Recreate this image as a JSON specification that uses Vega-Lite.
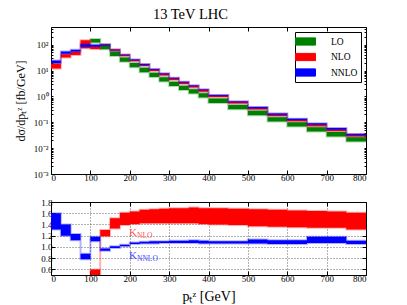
{
  "$schema": "https://vega.github.io/schema/vega-lite/v6.json",
  "background": "white",
  "padding": {"left": 13, "top": 6, "right": 30, "bottom": 4},
  "title": {"text": "13 TeV LHC", "font": "Liberation Serif", "fontSize": 14.5, "fontWeight": "normal", "offset": 4, "color": "black", "anchor": "middle"},
  "config": {
    "font": "Liberation Serif",
    "view": {"stroke": "black", "strokeWidth": 1},
    "axis": {"labelFont": "Liberation Serif", "labelFontSize": 9, "labelColor": "black", "tickColor": "black", "tickSize": -4, "labelPadding": 3, "domain": false, "titleFont": "Liberation Serif", "titleFontWeight": "normal", "titleColor": "black", "grid": false}
  },
  "resolve": {"scale": {"fill": "independent", "stroke": "independent", "color": "independent"}, "legend": {"fill": "independent", "stroke": "independent", "color": "independent"}},
  "spacing": 14,
  "datasets": {
    "top": [
      {"s": "LO", "x": 100, "lo": 122, "hi": 164},
      {"s": "LO", "x": 125, "lo": 66, "hi": 98},
      {"s": "LO", "x": 150, "lo": 36.5, "hi": 53.7},
      {"s": "LO", "x": 175, "lo": 21.6, "hi": 31.7},
      {"s": "LO", "x": 200, "lo": 13.4, "hi": 19.6},
      {"s": "LO", "x": 225, "lo": 8.63, "hi": 12.7},
      {"s": "LO", "x": 250, "lo": 5.6, "hi": 8.24},
      {"s": "LO", "x": 275, "lo": 3.76, "hi": 5.53},
      {"s": "LO", "x": 300, "lo": 2.52, "hi": 3.71},
      {"s": "LO", "x": 325, "lo": 1.77, "hi": 2.6},
      {"s": "LO", "x": 350, "lo": 1.28, "hi": 1.88},
      {"s": "LO", "x": 375, "lo": 0.896, "hi": 1.32},
      {"s": "LO", "x": 400, "lo": 0.559, "hi": 0.822},
      {"s": "LO", "x": 450, "lo": 0.315, "hi": 0.462},
      {"s": "LO", "x": 500, "lo": 0.188, "hi": 0.276},
      {"s": "LO", "x": 550, "lo": 0.107, "hi": 0.157},
      {"s": "LO", "x": 600, "lo": 0.0678, "hi": 0.0997},
      {"s": "LO", "x": 650, "lo": 0.0436, "hi": 0.0641},
      {"s": "LO", "x": 700, "lo": 0.0284, "hi": 0.0417},
      {"s": "LO", "x": 750, "lo": 0.0179, "hi": 0.0264},
      {"s": "LO", "x": 800, "lo": 0.0179, "hi": 0.0264},
      {"s": "NLO", "x": 0, "lo": 12, "hi": 18.5},
      {"s": "NLO", "x": 25, "lo": 31.6, "hi": 42.4},
      {"s": "NLO", "x": 50, "lo": 40, "hi": 54},
      {"s": "NLO", "x": 75, "lo": 72, "hi": 146},
      {"s": "NLO", "x": 100, "lo": 68, "hi": 90},
      {"s": "NLO", "x": 125, "lo": 95, "hi": 104},
      {"s": "NLO", "x": 150, "lo": 58.5, "hi": 66.4},
      {"s": "NLO", "x": 175, "lo": 36.1, "hi": 41.9},
      {"s": "NLO", "x": 200, "lo": 22.7, "hi": 26.2},
      {"s": "NLO", "x": 225, "lo": 14.8, "hi": 17.3},
      {"s": "NLO", "x": 250, "lo": 9.59, "hi": 11.27},
      {"s": "NLO", "x": 275, "lo": 6.43, "hi": 7.61},
      {"s": "NLO", "x": 300, "lo": 4.32, "hi": 5.14},
      {"s": "NLO", "x": 325, "lo": 3.02, "hi": 3.6},
      {"s": "NLO", "x": 350, "lo": 2.19, "hi": 2.62},
      {"s": "NLO", "x": 375, "lo": 1.52, "hi": 1.83},
      {"s": "NLO", "x": 400, "lo": 0.944, "hi": 1.139},
      {"s": "NLO", "x": 450, "lo": 0.527, "hi": 0.637},
      {"s": "NLO", "x": 500, "lo": 0.31, "hi": 0.377},
      {"s": "NLO", "x": 550, "lo": 0.175, "hi": 0.214},
      {"s": "NLO", "x": 600, "lo": 0.11, "hi": 0.135},
      {"s": "NLO", "x": 650, "lo": 0.0704, "hi": 0.0861},
      {"s": "NLO", "x": 700, "lo": 0.0458, "hi": 0.0557},
      {"s": "NLO", "x": 750, "lo": 0.0283, "hi": 0.0348},
      {"s": "NLO", "x": 800, "lo": 0.0283, "hi": 0.0348},
      {"s": "NNLO", "x": 0, "lo": 19.5, "hi": 24.5},
      {"s": "NNLO", "x": 25, "lo": 44, "hi": 54},
      {"s": "NNLO", "x": 50, "lo": 54, "hi": 64},
      {"s": "NNLO", "x": 75, "lo": 82, "hi": 103},
      {"s": "NNLO", "x": 100, "lo": 84, "hi": 100},
      {"s": "NNLO", "x": 125, "lo": 93, "hi": 101},
      {"s": "NNLO", "x": 150, "lo": 60, "hi": 64},
      {"s": "NNLO", "x": 175, "lo": 38.6, "hi": 40.6},
      {"s": "NNLO", "x": 200, "lo": 24.9, "hi": 26.7},
      {"s": "NNLO", "x": 225, "lo": 16.3, "hi": 17.66},
      {"s": "NNLO", "x": 250, "lo": 10.6, "hi": 11.47},
      {"s": "NNLO", "x": 275, "lo": 7.2, "hi": 7.72},
      {"s": "NNLO", "x": 300, "lo": 4.86, "hi": 5.25},
      {"s": "NNLO", "x": 325, "lo": 3.4, "hi": 3.67},
      {"s": "NNLO", "x": 350, "lo": 2.46, "hi": 2.66},
      {"s": "NNLO", "x": 375, "lo": 1.72, "hi": 1.85},
      {"s": "NNLO", "x": 400, "lo": 1.06, "hi": 1.14},
      {"s": "NNLO", "x": 450, "lo": 0.593, "hi": 0.64},
      {"s": "NNLO", "x": 500, "lo": 0.35, "hi": 0.389},
      {"s": "NNLO", "x": 550, "lo": 0.197, "hi": 0.218},
      {"s": "NNLO", "x": 600, "lo": 0.123, "hi": 0.137},
      {"s": "NNLO", "x": 650, "lo": 0.0812, "hi": 0.0923},
      {"s": "NNLO", "x": 700, "lo": 0.0527, "hi": 0.0599},
      {"s": "NNLO", "x": 750, "lo": 0.0318, "hi": 0.035},
      {"s": "NNLO", "x": 800, "lo": 0.0318, "hi": 0.035}
    ],
    "ratio": [
      {"s": "KNLO", "x": 100, "lo": 0.45, "hi": 0.6},
      {"s": "KNLO", "x": 125, "lo": 1.19, "hi": 1.3},
      {"s": "KNLO", "x": 150, "lo": 1.33, "hi": 1.51},
      {"s": "KNLO", "x": 175, "lo": 1.39, "hi": 1.61},
      {"s": "KNLO", "x": 200, "lo": 1.41, "hi": 1.63},
      {"s": "KNLO", "x": 225, "lo": 1.42, "hi": 1.66},
      {"s": "KNLO", "x": 250, "lo": 1.42, "hi": 1.67},
      {"s": "KNLO", "x": 275, "lo": 1.42, "hi": 1.68},
      {"s": "KNLO", "x": 300, "lo": 1.42, "hi": 1.69},
      {"s": "KNLO", "x": 325, "lo": 1.42, "hi": 1.69},
      {"s": "KNLO", "x": 350, "lo": 1.42, "hi": 1.7},
      {"s": "KNLO", "x": 375, "lo": 1.41, "hi": 1.69},
      {"s": "KNLO", "x": 400, "lo": 1.4, "hi": 1.69},
      {"s": "KNLO", "x": 450, "lo": 1.39, "hi": 1.68},
      {"s": "KNLO", "x": 500, "lo": 1.37, "hi": 1.67},
      {"s": "KNLO", "x": 550, "lo": 1.36, "hi": 1.66},
      {"s": "KNLO", "x": 600, "lo": 1.35, "hi": 1.65},
      {"s": "KNLO", "x": 650, "lo": 1.34, "hi": 1.64},
      {"s": "KNLO", "x": 700, "lo": 1.34, "hi": 1.63},
      {"s": "KNLO", "x": 750, "lo": 1.31, "hi": 1.61},
      {"s": "KNLO", "x": 800, "lo": 1.31, "hi": 1.61},
      {"s": "KNNLO", "x": 0, "lo": 1.31, "hi": 1.6},
      {"s": "KNNLO", "x": 25, "lo": 1.2, "hi": 1.4},
      {"s": "KNNLO", "x": 50, "lo": 1.12, "hi": 1.23},
      {"s": "KNNLO", "x": 75, "lo": 0.78, "hi": 0.88},
      {"s": "KNNLO", "x": 100, "lo": 1.1, "hi": 1.18},
      {"s": "KNNLO", "x": 125, "lo": 0.93, "hi": 0.97},
      {"s": "KNNLO", "x": 150, "lo": 0.98, "hi": 1.01},
      {"s": "KNNLO", "x": 175, "lo": 1.01, "hi": 1.04},
      {"s": "KNNLO", "x": 200, "lo": 1.05, "hi": 1.08},
      {"s": "KNNLO", "x": 225, "lo": 1.06, "hi": 1.09},
      {"s": "KNNLO", "x": 250, "lo": 1.06, "hi": 1.1},
      {"s": "KNNLO", "x": 275, "lo": 1.07, "hi": 1.1},
      {"s": "KNNLO", "x": 300, "lo": 1.07, "hi": 1.11},
      {"s": "KNNLO", "x": 325, "lo": 1.07, "hi": 1.11},
      {"s": "KNNLO", "x": 350, "lo": 1.07, "hi": 1.12},
      {"s": "KNNLO", "x": 375, "lo": 1.06, "hi": 1.11},
      {"s": "KNNLO", "x": 400, "lo": 1.06, "hi": 1.1},
      {"s": "KNNLO", "x": 450, "lo": 1.06, "hi": 1.1},
      {"s": "KNNLO", "x": 500, "lo": 1.06, "hi": 1.13},
      {"s": "KNNLO", "x": 550, "lo": 1.05, "hi": 1.12},
      {"s": "KNNLO", "x": 600, "lo": 1.05, "hi": 1.12},
      {"s": "KNNLO", "x": 650, "lo": 1.07, "hi": 1.18},
      {"s": "KNNLO", "x": 700, "lo": 1.07, "hi": 1.18},
      {"s": "KNNLO", "x": 750, "lo": 1.05, "hi": 1.11},
      {"s": "KNNLO", "x": 800, "lo": 1.05, "hi": 1.11}
    ],
    "labels": [
      {"s": "KNLO", "x": 198, "y": 1.25, "main": "K", "sub": "NLO"},
      {"s": "KNNLO", "x": 198, "y": 0.83, "main": "K", "sub": "NNLO"}
    ]
  },
  "vconcat": [
    {
      "width": 315,
      "height": 147,
      "data": {"name": "top"},
      "resolve": {"axis": {"x": "independent", "y": "independent"}},
      "layer": [
        {
          "mark": {"type": "area", "interpolate": "step-after", "strokeWidth": 2, "strokeOpacity": 0.3, "fillOpacity": 1, "clip": true},
          "encoding": {
            "x": {"field": "x", "type": "quantitative", "scale": {"domain": [0, 800], "nice": false}, "axis": {"values": [0, 100, 200, 300, 400, 500, 600, 700, 800], "title": null}},
            "y": {"field": "hi", "type": "quantitative", "scale": {"type": "log", "domain": [0.001, 480], "nice": false},
              "axis": {"values": [0.001, 0.002, 0.003, 0.004, 0.005, 0.006, 0.007, 0.008, 0.009, 0.01, 0.02, 0.03, 0.04, 0.05, 0.06, 0.07, 0.08, 0.09, 0.1, 0.2, 0.3, 0.4, 0.5, 0.6, 0.7, 0.8, 0.9, 1, 2, 3, 4, 5, 6, 7, 8, 9, 10, 20, 30, 40, 50, 60, 70, 80, 90, 100, 200, 300, 400],
                "labelExpr": "datum.value == 100 ? '10²' : datum.value == 10 ? '10¹' : datum.value == 1 ? '10⁰' : datum.value == 0.1 ? '10⁻¹' : datum.value == 0.01 ? '10⁻²' : datum.value == 0.001 ? '10⁻³' : ''",
                "tickSize": -2, "labelPadding": 5, "labelFontSize": 9,
                "title": "dσ/dpₜᶻ  [fb/GeV]", "titleFontSize": 12, "titlePadding": 6}},
            "y2": {"field": "lo"},
            "fill": {"field": "s", "type": "nominal", "scale": {"domain": ["LO", "NLO", "NNLO"], "range": ["#008000", "#ff0000", "#0000ff"]},
              "legend": {"title": null, "orient": "top-right", "offset": 5, "fillColor": "white", "strokeColor": "black", "padding": 3, "symbolType": "M-1.667,-0.6H1.667V0.6H-1.667Z", "symbolSize": 144, "symbolStrokeColor": "#222", "symbolStrokeWidth": 1, "labelFont": "Liberation Serif", "labelFontSize": 9.5, "labelColor": "black", "rowPadding": 2.5, "labelOffset": 19, "symbolOffset": 1}},
            "stroke": {"field": "s", "type": "nominal", "scale": {"domain": ["LO", "NLO", "NNLO"], "range": ["#008000", "#ff0000", "#0000ff"]}, "legend": null}
          }
        },
        {
          "mark": {"type": "rule", "opacity": 0},
          "encoding": {
            "x": {"field": "x", "type": "quantitative", "axis": {"orient": "top", "values": [0, 100, 200, 300, 400, 500, 600, 700, 800], "labels": false, "title": null}},
            "y": {"field": "hi", "type": "quantitative",
              "axis": {"orient": "right", "values": [0.001, 0.002, 0.003, 0.004, 0.005, 0.006, 0.007, 0.008, 0.009, 0.01, 0.02, 0.03, 0.04, 0.05, 0.06, 0.07, 0.08, 0.09, 0.1, 0.2, 0.3, 0.4, 0.5, 0.6, 0.7, 0.8, 0.9, 1, 2, 3, 4, 5, 6, 7, 8, 9, 10, 20, 30, 40, 50, 60, 70, 80, 90, 100, 200, 300, 400], "labels": false, "tickSize": -2, "title": null}}
          }
        }
      ]
    },
    {
      "width": 315,
      "height": 73,
      "encoding": {
        "x": {"field": "x", "type": "quantitative", "scale": {"domain": [0, 800], "nice": false}},
        "y": {"type": "quantitative", "scale": {"domain": [0.5, 1.8], "nice": false}}
      },
      "resolve": {"scale": {"fill": "independent", "stroke": "independent", "color": "independent"}, "axis": {"x": "independent", "y": "independent"}},
      "layer": [
        {
          "data": {"name": "ratio"},
          "mark": {"type": "area", "interpolate": "step-after", "strokeWidth": 2, "strokeOpacity": 0.3, "fillOpacity": 1, "clip": true},
          "encoding": {
            "x": {"field": "x", "type": "quantitative", "axis": {"values": [0, 100, 200, 300, 400, 500, 600, 700, 800], "title": "pₜᶻ  [GeV]", "titleFontSize": 14, "titlePadding": 6, "grid": true, "gridColor": "black", "gridDash": [1, 2], "gridOpacity": 0.6}},
            "y": {"field": "hi", "type": "quantitative", "axis": {"values": [0.6, 0.8, 1.0, 1.2, 1.4, 1.6, 1.8], "format": ".1f", "title": null, "grid": true, "gridColor": "black", "gridDash": [1, 2], "gridOpacity": 0.6, "labelOverlap": false}},
            "y2": {"field": "lo"},
            "fill": {"field": "s", "type": "nominal", "scale": {"domain": ["KNLO", "KNNLO"], "range": ["#ff0000", "#0000ff"]}, "legend": null},
            "stroke": {"field": "s", "type": "nominal", "scale": {"domain": ["KNLO", "KNNLO"], "range": ["#ff0000", "#0000ff"]}, "legend": null}
          }
        },
        {
          "data": {"name": "labels"},
          "mark": {"type": "text", "align": "left", "baseline": "middle", "fontSize": 11, "font": "Liberation Serif"},
          "encoding": {
            "x": {"field": "x", "type": "quantitative", "axis": null},
            "y": {"field": "y", "type": "quantitative", "axis": null},
            "text": {"field": "main"},
            "color": {"field": "s", "type": "nominal", "scale": {"domain": ["KNLO", "KNNLO"], "range": ["#ff5555", "#4444ff"]}, "legend": null}
          }
        },
        {
          "data": {"name": "labels"},
          "mark": {"type": "text", "align": "left", "baseline": "middle", "fontSize": 7.5, "dx": 8, "dy": 3, "font": "Liberation Serif"},
          "encoding": {
            "x": {"field": "x", "type": "quantitative", "axis": {"orient": "top", "values": [0, 100, 200, 300, 400, 500, 600, 700, 800], "labels": false, "title": null}},
            "y": {"field": "y", "type": "quantitative", "axis": {"orient": "right", "values": [0.6, 0.8, 1.0, 1.2, 1.4, 1.6, 1.8], "labels": false, "title": null}},
            "text": {"field": "sub"},
            "color": {"field": "s", "type": "nominal", "scale": {"domain": ["KNLO", "KNNLO"], "range": ["#ff5555", "#4444ff"]}, "legend": null}
          }
        }
      ]
    }
  ]
}
